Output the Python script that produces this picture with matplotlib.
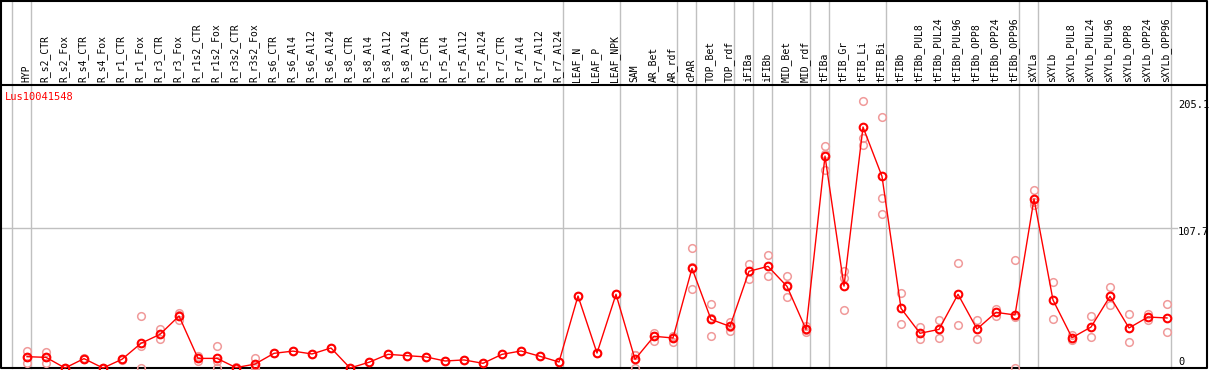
import numpy as np
import matplotlib
matplotlib.use('Agg')
import matplotlib.pyplot as plt

nan = np.nan

# Données
samples = ['HYP', 'R_s2_CTR', 'R_s2_Fox', 'R_s4_CTR', 'R_s4_Fox', 'R_r1_CTR', 'R_r1_Fox',
           'R_r3_CTR', 'R_r3_Fox', 'R_r1s2_CTR', 'R_r1s2_Fox', 'R_r3s2_CTR', 'R_r3s2_Fox',
           'R_s6_CTR', 'R_s6_Al4', 'R_s6_Al12', 'R_s6_Al24', 'R_s8_CTR', 'R_s8_Al4',
           'R_s8_Al12', 'R_s8_Al24', 'R_r5_CTR', 'R_r5_Al4', 'R_r5_Al12', 'R_r5_Al24',
           'R_r7_CTR', 'R_r7_Al4', 'R_r7_Al12', 'R_r7_Al24', 'LEAF_N', 'LEAF_P', 'LEAF_NPK',
           'SAM', 'AR_Bet', 'AR_rdf', 'cPAR', 'TOP_Bet', 'TOP_rdf', 'iFIBa', 'iFIBb',
           'MID_Bet', 'MID_rdf', 'tFIBa', 'tFIB_Gr', 'tFIB_Li', 'tFIB_Bi', 'tFIBb',
           'tFIBb_PUL8', 'tFIBb_PUL24', 'tFIBb_PUL96', 'tFIBb_OPP8', 'tFIBb_OPP24',
           'tFIBb_OPP96', 'sXYLa', 'sXYLb', 'sXYLb_PUL8', 'sXYLb_PUL24', 'sXYLb_PUL96',
           'sXYLb_OPP8', 'sXYLb_OPP24', 'sXYLb_OPP96']

means = [8.7, 8.2, 0.0, 7.2, 0.0, 6.7, 19.0, 25.9, 40.0, 7.4, 7.4, 0.3, 3.0,
         11.3, 13.0, 10.8, 15.4, 0.0, 4.4, 10.5, 9.5, 8.5, 5.4, 6.2, 3.6,
         10.5, 13.1, 9.0, 4.6, 55.4, 11.5, 56.7,
         6.7, 24.4, 23.1, 76.7, 37.4, 32.0, 74.4, 78.2, 62.8, 29.7,
         163.0, 63.0, 185.4, 147.4, 45.9, 26.7, 29.7, 56.7, 30.0, 42.8, 40.8,
         130.0, 52.3, 23.3, 31.5, 55.1, 30.8, 39.2, 38.5]

rep_a = [13.3, 12.0, 0.0, 7.5, 0.0, 7.0, 39.8, 29.8, 42.0, 9.0, 16.9, 0.5, 7.4,
         11.3, 13.0, 10.8, 15.4, 0.0, 4.4, 10.5, 9.5, 8.5, 5.4, 6.2, 3.6,
         10.5, 13.1, 9.0, 4.6, 55.4, 11.5, 56.7,
         10.0, 27.2, 25.0, 92.0, 49.0, 35.6, 80.3, 86.9, 70.5, 32.6,
         170.8, 74.9, 205.1, 192.8, 57.4, 31.3, 36.9, 80.8, 36.9, 45.6, 82.8,
         136.9, 66.2, 25.4, 40.0, 62.3, 41.5, 41.5, 49.2]

rep_b = [4.0, 4.0, 0.0, 6.9, 0.0, 6.4, 0.0, 22.0, 37.0, 5.4, 0.0, 0.0, 0.0,
         nan, nan, nan, nan, nan, nan, nan, nan, nan, nan, nan, nan,
         nan, nan, nan, nan, nan, nan, nan,
         0.0, 21.0, 20.3, 60.5, 25.0, 28.7, 68.2, 70.5, 54.4, 27.4,
         165.0, 69.0, 177.0, 130.5, 33.6, 22.0, 23.1, 32.8, 22.0, 40.0, 0.0,
         125.4, 37.4, 21.5, 23.8, 48.2, 20.0, 37.0, 27.4]

rep_c = [8.7, 8.5, nan, nan, nan, nan, 17.2, nan, 41.0, nan, 5.3, nan, 1.6,
         nan, nan, nan, nan, nan, nan, nan, nan, nan, nan, nan, nan,
         nan, nan, nan, nan, nan, nan, nan,
         10.0, 25.0, 24.0, 77.6, 38.2, 31.7, nan, nan, 63.5, 29.1,
         152.3, 44.6, 171.5, 118.2, nan, nan, nan, nan, nan, nan, 39.6,
         127.7, nan, nan, nan, nan, nan, nan, nan]

# séparateurs de groupes (après l'indice)
separators = [-1, 0, 28, 31, 34, 35, 37, 38, 39, 41, 42, 45, 52, 53, 60]
y_top = 215.4
y_labels = [205.1, 107.7, 0]

W, H = 1209, 370
fig = plt.figure(figsize=(W / 100, H / 100), dpi=100)
fig.patch.set_facecolor('white')

# repère en pixels pour le cadre et l'entête
bg = fig.add_axes([0, 0, 1, 1])
bg.set_xlim(0, W)
bg.set_ylim(H, 0)
bg.axis('off')

x0, dx = 27, 19
n = len(samples)
mono = 'DejaVu Sans Mono'

# zone des données
ax = fig.add_axes([0, 2 / H, 1, 280 / H])
ax.set_xlim(-x0 / dx, (W - x0) / dx)
ax.set_ylim(0, y_top)
ax.axis('off')

xs = np.arange(n)
for s in separators:
    px = x0 + dx * s + 3.5
    bg.plot([px, px], [0, 368], color='#c0c0c0', lw=1, zorder=1)

bg.plot([1, 1177], [228, 228], color='#c0c0c0', lw=1, zorder=1)

for reps in (rep_a, rep_b, rep_c):
    ax.plot(xs, reps, ls='none', marker='o', ms=5.5, mfc='none', mec='#f09a9a',
            mew=1.1, clip_on=False, zorder=2)

ax.plot(xs, means, color='red', lw=1, marker='o', ms=5.5, mfc='none', mec='red',
        mew=1.5, clip_on=False, zorder=3)

# cadre
bg.plot([1, 1207, 1207, 1, 1], [1, 1, 368, 368, 1], color='black', lw=1.5, zorder=4)
bg.plot([1, 1207], [85, 85], color='black', lw=1.5, zorder=4)

# étiquettes
for i, name in enumerate(samples):
    bg.text(x0 + dx * i - 1, 82, name, rotation=90, ha='center', va='bottom',
            fontsize=7, family=mono)

bg.text(5, 97, 'Lus10041548', color='red', fontsize=7.5, family=mono, va='center')

for v in y_labels:
    py = 368 - v * (280 / y_top)
    py = min(py + 4, 362)
    bg.text(1178, py, f'{v:g}', fontsize=7.5, family=mono, va='center', ha='left')

plt.savefig('out.png', dpi=100)
